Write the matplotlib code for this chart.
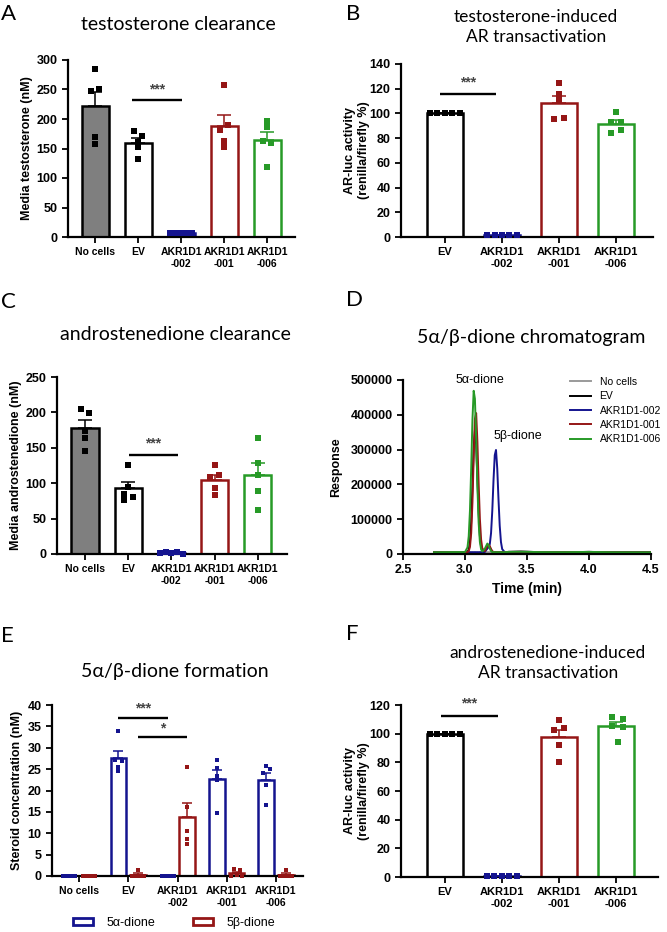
import numpy as np
import matplotlib
matplotlib.use('Agg')
import matplotlib.pyplot as plt
from matplotlib.patches import Patch

plt.rcParams['font.family'] = ['Liberation Sans', 'DejaVu Sans']
TITLE_FONT = ['Lato', 'DejaVu Sans']

# colours
GREY = '#7f7f7f'
BLUE = '#14148f'
RED = '#951616'
GREEN = '#279a27'

# ---------------- data ----------------
labels5 = ['No cells', 'EV', 'AKR1D1\n-002', 'AKR1D1\n-001', 'AKR1D1\n-006']
labels4 = ['EV', 'AKR1D1\n-002', 'AKR1D1\n-001', 'AKR1D1\n-006']

# A: media testosterone (nM)
testo_points = [[284, 250, 248, 170, 157],
                [179, 172, 161, 152, 132],
                [6, 6, 6, 6, 6],
                [257, 189, 181, 162, 152],
                [196, 186, 162, 160, 119]]

# B: testosterone-induced AR-luc activity (%)
testo_ar_points = [[100, 100, 100, 100, 100],
                   [2, 2, 2, 2, 1.5],
                   [125, 115.7, 110.8, 95.4, 96],
                   [101, 92.7, 92.7, 84.3, 86.5]]

# C: media androstenedione (nM)
andro_points = [[205, 199, 174, 164, 146],
                [125.5, 95, 85, 81, 76.4],
                [1, 3, 1.5, 2.5, 0.5],
                [126, 111, 109, 93, 83],
                [164, 128, 112, 88.7, 62]]

# D: chromatogram traces
time_min = [2.75, 2.90, 3.00, 3.02, 3.03, 3.04, 3.05, 3.06, 3.07, 3.08,
            3.09, 3.10, 3.11, 3.12, 3.13, 3.14, 3.16, 3.18, 3.19, 3.20,
            3.21, 3.22, 3.23, 3.24, 3.25, 3.26, 3.27, 3.28, 3.29, 3.30,
            3.32, 3.35, 3.45, 3.60, 3.80, 4.00, 4.20, 4.50]
resp_nocells = [5000, 5500, 5200, 5000, 5100, 5000, 5200, 5300, 5100, 5000,
                5200, 5100, 5000, 5200, 5300, 5100, 5000, 5200, 5400, 5300,
                5200, 5100, 5000, 5200, 5100, 5000, 5200, 5300, 5100, 5000,
                5200, 5500, 6000, 5500, 5200, 5800, 5000, 4800]
resp_ev = [5000, 5500, 5000, 6400, 12400, 34700, 92500, 194000, 305000, 355000,
           314000, 217000, 119000, 52000, 20400, 8900, 7400, 19400, 23000, 19400,
           12400, 7400, 5500, 5200, 5000, 5300, 5100, 5000, 5200, 5000,
           5100, 6000, 6500, 5500, 5200, 6000, 5000, 4800]
resp_002 = [5000, 5500, 5000, 5100, 5000, 5200, 5000, 5100, 5000, 5200,
            5000, 5100, 5000, 5200, 5000, 5100, 6150, 15300, 19300, 28400,
            59700, 124000, 213000, 284000, 299000, 246000, 158000, 81000, 34400, 13900,
            5400, 6000, 6500, 5500, 5200, 6000, 5000, 4800]
resp_001 = [5000, 5500, 5000, 5500, 8200, 20400, 60000, 148000, 278000, 389000,
            405000, 323000, 203000, 101000, 41000, 15600, 8400, 22600, 27000, 22600,
            14000, 8000, 5600, 5200, 5000, 5300, 5100, 5000, 5200, 5000,
            5100, 6000, 6500, 5500, 5200, 6000, 5000, 4800]
resp_006 = [5000, 5500, 5600, 19000, 51000, 125000, 247000, 385000, 469000, 446000,
            332000, 194000, 90000, 34600, 13100, 7400, 15300, 30000, 25000, 15300,
            8400, 5700, 5200, 5100, 5000, 5300, 5100, 5000, 5200, 5000,
            5100, 6000, 6500, 5500, 5200, 6000, 5000, 4800]
trace_names = ['No cells', 'EV', 'AKR1D1-002', 'AKR1D1-001', 'AKR1D1-006']

# E: 5a / 5b-dione formation (nM)
alpha_points = [[0, 0, 0, 0, 0],
                [34, 27.1, 27, 25.6, 24.6],
                [0, 0, 0, 0, 0],
                [27.1, 25.3, 23.5, 22.5, 14.8],
                [25.7, 25.0, 24.0, 21.2, 16.6]]
beta_points = [[0, 0, 0, 0, 0],
               [1.5, 0, 0, 0, 0],
               [25.6, 16.2, 10.5, 8.7, 7.5],
               [1.7, 1.4, 0.3, 0, 0],
               [1.5, 0, 0, 0, 0]]

# F: androstenedione-induced AR-luc activity (%)
andro_ar_points = [[100, 100, 100, 100, 100],
                   [1, 1, 1, 1, 1],
                   [109.5, 103.7, 102.6, 92.1, 80.4],
                   [111.9, 110, 105.4, 104.9, 94.4]]

# ---------------- figure ----------------
fig = plt.figure(figsize=(6.67, 9.32), dpi=100)


def px_axes(left, top, right, bottom):
    return fig.add_axes([left / 667, 1 - bottom / 932, (right - left) / 667, (bottom - top) / 932])


def px_text(x, y, s, **kw):
    fig.text(x / 667, 1 - y / 932, s, **kw)


def style_axes(ax, xsize=7.5):
    for s in ['top', 'right']:
        ax.spines[s].set_visible(False)
    for s in ['left', 'bottom']:
        ax.spines[s].set_linewidth(1.6)
    ax.tick_params(width=1.3, length=4)
    ax.tick_params(axis='y', labelsize=9)
    ax.tick_params(axis='x', labelsize=xsize)
    for lab in ax.get_xticklabels() + ax.get_yticklabels():
        lab.set_fontweight('bold')


def mean_sem(p):
    p = np.array(p, dtype=float)
    return p.mean(), p.std(ddof=1) / np.sqrt(len(p))


def bar_panel(ax, points, edges, fills, offsets, labels, width=0.63):
    x = np.arange(len(points))
    stats = [mean_sem(p) for p in points]
    means = [s[0] for s in stats]
    ax.bar(x, means, width=width, color=fills, edgecolor=edges, linewidth=1.8, zorder=2)
    for i in range(len(points)):
        ax.errorbar(x[i], means[i], yerr=[[0], [stats[i][1]]], fmt='none', ecolor=edges[i],
                    elinewidth=1.1, capsize=5, capthick=1.1, zorder=3)
        ax.scatter(x[i] + np.array(offsets[i]), points[i], marker='s', s=16,
                   color=edges[i], zorder=4, clip_on=False, linewidths=0)
    ax.set_xticks(x)
    ax.set_xticklabels(labels)


def ylab(ax, text, xpos):
    ax.set_ylabel(text, fontsize=9, fontweight='bold')
    ax.yaxis.set_label_coords(xpos, 0.5)


def sig(ax, x0, x1, y, ytxt, txt='***'):
    ax.plot([x0, x1], [y, y], color='black', lw=1.7, solid_capstyle='butt', zorder=5)
    ax.text((x0 + x1) / 2, ytxt, txt, ha='center', va='center', fontsize=10,
            fontweight='bold', color='#444444')


spread = [-0.26, -0.13, 0, 0.13, 0.26]

# ---- A ----
axA = px_axes(68, 60, 295, 237)
bar_panel(axA, testo_points, ['black', 'black', BLUE, RED, GREEN],
          [GREY, 'white', 'white', 'white', 'white'],
          [[0, 0.1, -0.1, 0, 0], [-0.1, 0.1, 0, 0, 0], spread,
           [0, 0.1, -0.1, 0, 0], [0, 0, -0.1, 0.1, 0]], labels5)
axA.set_xlim(-0.63, 4.65)
axA.set_ylim(0, 300)
axA.set_yticks(range(0, 301, 50))
style_axes(axA)
ylab(axA, 'Media testosterone (nM)', -0.155)
sig(axA, 0.86, 2.02, 232, 250)

# ---- B ----
axB = px_axes(401, 64, 653, 237)
bar_panel(axB, testo_ar_points, ['black', BLUE, RED, GREEN], ['white'] * 4,
          [spread, spread, [0, 0, 0, -0.09, 0.09], [0, -0.08, 0.08, -0.09, 0.09]], labels4)
axB.set_xlim(-0.77, 3.65)
axB.set_ylim(0, 140)
axB.set_yticks(range(0, 141, 20))
style_axes(axB, 8)
ylab(axB, 'AR-luc activity\n(renilla/firefly %)', -0.125)
sig(axB, -0.09, 0.9, 116, 125)

# ---- C ----
axC = px_axes(57, 377, 287, 554)
bar_panel(axC, andro_points, ['black', 'black', BLUE, RED, GREEN],
          [GREY, 'white', 'white', 'white', 'white'],
          [[-0.1, 0.1, 0, 0, 0], [0, 0, -0.1, 0.1, -0.1], spread,
           [0, 0.1, -0.1, 0, 0], [0, 0, 0, 0, 0]], labels5)
axC.set_xlim(-0.65, 4.68)
axC.set_ylim(0, 250)
axC.set_yticks(range(0, 251, 50))
style_axes(axC)
ylab(axC, 'Media androstenedione (nM)', -0.15)
sig(axC, 1.01, 2.15, 140, 156)

# ---- D ----
axD = px_axes(403, 380, 651, 554)
traces = [resp_nocells, resp_ev, resp_002, resp_001, resp_006]
trace_cols = ['#9a9a9a', 'black', BLUE, RED, GREEN]
for tr, col, name in zip(traces, trace_cols, trace_names):
    axD.plot(time_min, tr, color=col, lw=1.4, label=name)
axD.set_xlim(2.5, 4.5)
axD.set_ylim(0, 500000)
axD.set_xticks([2.5, 3.0, 3.5, 4.0, 4.5])
axD.set_xticklabels(['2.5', '3.0', '3.5', '4.0', '4.5'])
axD.set_yticks(range(0, 500001, 100000))
axD.set_yticklabels([str(v) for v in range(0, 500001, 100000)])
style_axes(axD, 9)
axD.set_xlabel('Time (min)', fontsize=10, fontweight='bold')
ylab(axD, 'Response', -0.245)
axD.text(3.12, 500000, '5α-dione', ha='center', va='center', fontsize=9)
axD.text(3.43, 339000, '5β-dione', ha='center', va='center', fontsize=9)
axD.legend(loc='upper left', bbox_to_anchor=(0.675, 1.018), frameon=False,
           prop={'size': 7.5}, handlelength=2.0,
           handletextpad=0.8, labelspacing=0.42, borderpad=0, borderaxespad=0)

# ---- E ----
axE = px_axes(52, 705, 303, 876)
xg = np.arange(5)
bw = 0.32
zero_spread = [-0.12, -0.06, 0, 0.06, 0.12]
alpha_off = [zero_spread, [0, -0.07, 0.07, 0, 0], zero_spread, [0, 0, 0, 0, 0], [0, 0.07, -0.07, 0, 0]]
beta_off = [zero_spread, [0, -0.12, -0.04, 0.04, 0.12], [0, 0, 0, 0, 0],
            [-0.06, 0.06, 0, -0.12, 0.12], [0, -0.12, -0.04, 0.04, 0.12]]
for pts, offs, shift, col in [(alpha_points, alpha_off, -0.2, BLUE), (beta_points, beta_off, 0.2, RED)]:
    stats = [mean_sem(p) for p in pts]
    means = [s[0] for s in stats]
    axE.bar(xg + shift, means, width=bw, color='white', edgecolor=col, linewidth=1.8, zorder=2)
    for i in range(5):
        if stats[i][1] > 0:
            axE.errorbar(xg[i] + shift, means[i], yerr=[[0], [stats[i][1]]], fmt='none', ecolor=col,
                         elinewidth=1.1, capsize=3.5, capthick=1.1, zorder=3)
        axE.scatter(xg[i] + shift + np.array(offs[i]), pts[i], marker='s', s=11, color=col,
                    zorder=4, clip_on=False, linewidths=0)
axE.set_xticks(xg)
axE.set_xticklabels(labels5)
axE.set_xlim(-0.55, 4.55)
axE.set_ylim(0, 40)
axE.set_yticks(range(0, 41, 5))
style_axes(axE)
ylab(axE, 'Steroid concentration (nM)', -0.115)
sig(axE, 0.8, 1.8, 37, 39.3)
sig(axE, 1.2, 2.2, 32.4, 34.4, '*')
fig.legend(handles=[Patch(facecolor='white', edgecolor=BLUE, lw=2),
                    Patch(facecolor='white', edgecolor=RED, lw=2)],
           labels=['5α-dione', '5β-dione'], loc='center', bbox_to_anchor=(174 / 667, 1 - 923 / 932),
           ncol=2, frameon=False, prop={'size': 9}, handlelength=1.6,
           handleheight=0.55, handletextpad=1.1, columnspacing=3.0)

# ---- F ----
axF = px_axes(401, 705, 658, 877)
bar_panel(axF, andro_ar_points, ['black', BLUE, RED, GREEN], ['white'] * 4,
          [spread, spread, [0, 0.09, -0.09, 0, 0], [-0.06, 0.12, -0.06, 0.12, 0.03]], labels4)
axF.set_xlim(-0.77, 3.74)
axF.set_ylim(0, 120)
axF.set_yticks(range(0, 121, 20))
style_axes(axF, 8)
ylab(axF, 'AR-luc activity\n(renilla/firefly %)', -0.12)
sig(axF, -0.07, 0.93, 112.5, 121)

# ---- titles and panel letters ----
tkw = dict(ha='center', va='center', fontsize=14, family=TITLE_FONT)
px_text(178, 25, 'testosterone clearance', **tkw)
px_text(175, 335, 'androstenedione clearance', **tkw)
px_text(531, 337, '5α/β-dione chromatogram', **tkw)
px_text(175, 672, '5α/β-dione formation', **tkw)
tkw2 = dict(ha='center', va='center', fontsize=12.5, family=TITLE_FONT, linespacing=1.32)
px_text(536, 27, 'testosterone-induced\nAR transactivation', **tkw2)
px_text(548, 663, 'androstenedione-induced\nAR transactivation', **tkw2)

lkw = dict(ha='left', va='center', fontsize=16, family=TITLE_FONT)
px_text(1, 14, 'A', **lkw)
px_text(346, 14, 'B', **lkw)
px_text(1, 302, 'C', **lkw)
px_text(346, 300, 'D', **lkw)
px_text(1, 636, 'E', **lkw)
px_text(346, 634, 'F', **lkw)

fig.savefig('out.png', dpi=100)
